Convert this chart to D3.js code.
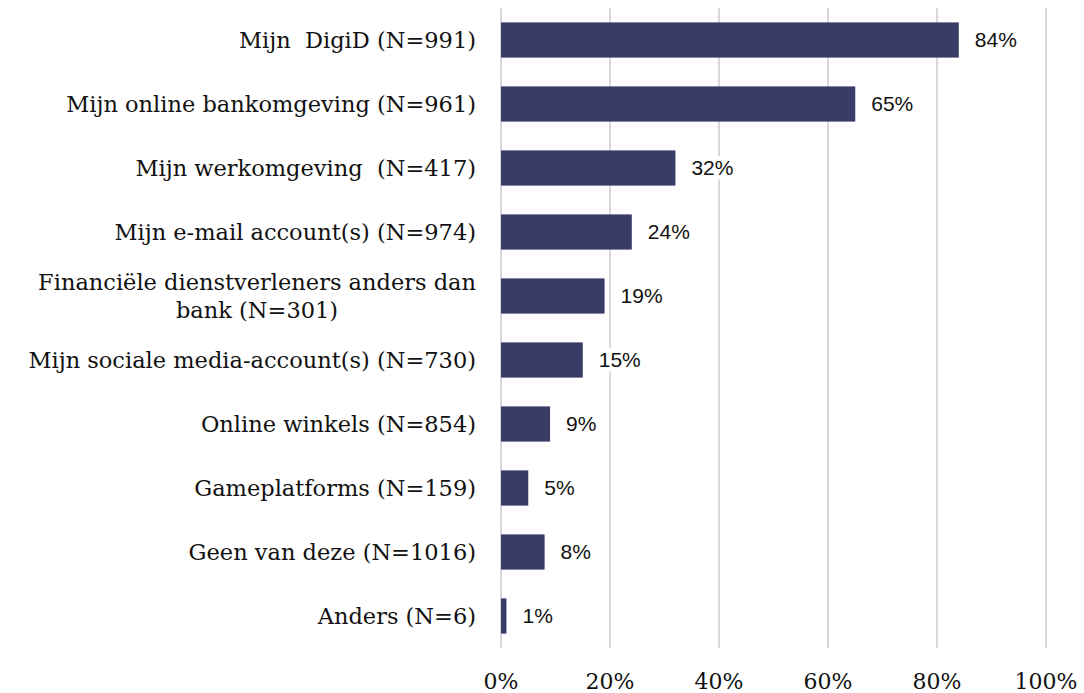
<!DOCTYPE html>
<html>
<head>
<meta charset="utf-8">
<script src="https://cdn.jsdelivr.net/npm/d3@7"></script>
<style>
  body { margin: 0; background: #fff; }
  svg { display: block; }
  .cat { font-family: "DejaVu Serif", serif; font-size: 22.5px; fill: #111; white-space: pre; }
  .tick-lbl { font-family: "DejaVu Serif", serif; font-size: 22px; fill: #111; }
  .val { font-family: "Liberation Sans", Arial, sans-serif; font-size: 21px; fill: #111; }
</style>
</head>
<body>
<svg id="chart"></svg>
<script>
// chart data
const categories = [
  "Mijn  DigiD (N=991)",
  "Mijn online bankomgeving (N=961)",
  "Mijn werkomgeving  (N=417)",
  "Mijn e-mail account(s) (N=974)",
  "Financiële dienstverleners anders dan bank (N=301)",
  "Mijn sociale media-account(s) (N=730)",
  "Online winkels (N=854)",
  "Gameplatforms (N=159)",
  "Geen van deze (N=1016)",
  "Anders (N=6)"
];
const values = [84, 65, 32, 24, 19, 15, 9, 5, 8, 1];
const tickValues = [0, 20, 40, 60, 80, 100];

const width = 1084, height = 693;
const svg = d3.select("#chart").attr("width", width).attr("height", height);

const x = d3.scaleLinear().domain([0, 100]).range([501, 1046]);
const y = d3.scaleBand().domain(categories).range([8, 648])
  .paddingInner(0.45).paddingOuter(0.225);

// gridlines
svg.append("g").selectAll("line")
  .data(tickValues)
  .join("line")
  .attr("x1", d => x(d)).attr("x2", d => x(d))
  .attr("y1", 8).attr("y2", 648)
  .attr("stroke", "#d9d9d9")
  .attr("stroke-width", 2);

// x tick labels
svg.append("g").selectAll("text")
  .data(tickValues)
  .join("text")
  .attr("class", "tick-lbl")
  .attr("x", d => x(d))
  .attr("y", 689)
  .attr("text-anchor", "middle")
  .text(d => d + "%");

// bars
svg.append("g").selectAll("rect")
  .data(values)
  .join("rect")
  .attr("x", x(0))
  .attr("y", (d, i) => y(categories[i]))
  .attr("width", d => x(d) - x(0))
  .attr("height", y.bandwidth())
  .attr("fill", "#383c66");

// value labels with white background
const vals = svg.append("g").selectAll("g")
  .data(values)
  .join("g")
  .attr("transform", (d, i) => `translate(${x(d) + 16},${y(categories[i]) + y.bandwidth() / 2})`);
vals.each(function(d){
  const g = d3.select(this);
  const t = g.append("text").attr("class", "val").attr("dy", "0.35em").text(d + "%");
  const bb = t.node().getBBox();
  g.insert("rect", "text")
    .attr("x", bb.x - 2).attr("y", bb.y)
    .attr("width", bb.width + 4).attr("height", bb.height)
    .attr("fill", "#fff");
});

// category labels, wrapped when too long
const maxLabel = 475, labelX = 476, lineH = 28;
categories.forEach((c, i) => {
  const cy = y(c) + y.bandwidth() / 2;
  const t = svg.append("text").attr("class", "cat")
    .attr("x", labelX).attr("y", cy).attr("dy", "0.35em")
    .attr("text-anchor", "end").text(c);
  if (t.node().getComputedTextLength() <= maxLabel) return;
  // greedy wrap
  const words = c.split(" ");
  let line = [], lines = [];
  words.forEach(w => {
    t.text([...line, w].join(" "));
    if (t.node().getComputedTextLength() > maxLabel && line.length) {
      lines.push(line.join(" "));
      line = [w];
    } else line.push(w);
  });
  lines.push(line.join(" "));
  t.text(lines[0]).attr("y", cy - lineH * (lines.length - 1) / 2);
  const w0 = t.node().getComputedTextLength();
  lines.slice(1).forEach((l, k) => {
    svg.append("text").attr("class", "cat")
      .attr("x", labelX - w0 / 2)
      .attr("y", cy - lineH * (lines.length - 1) / 2 + lineH * (k + 1))
      .attr("dy", "0.35em")
      .attr("text-anchor", "middle")
      .text(l);
  });
});
</script>
</body>
</html>
